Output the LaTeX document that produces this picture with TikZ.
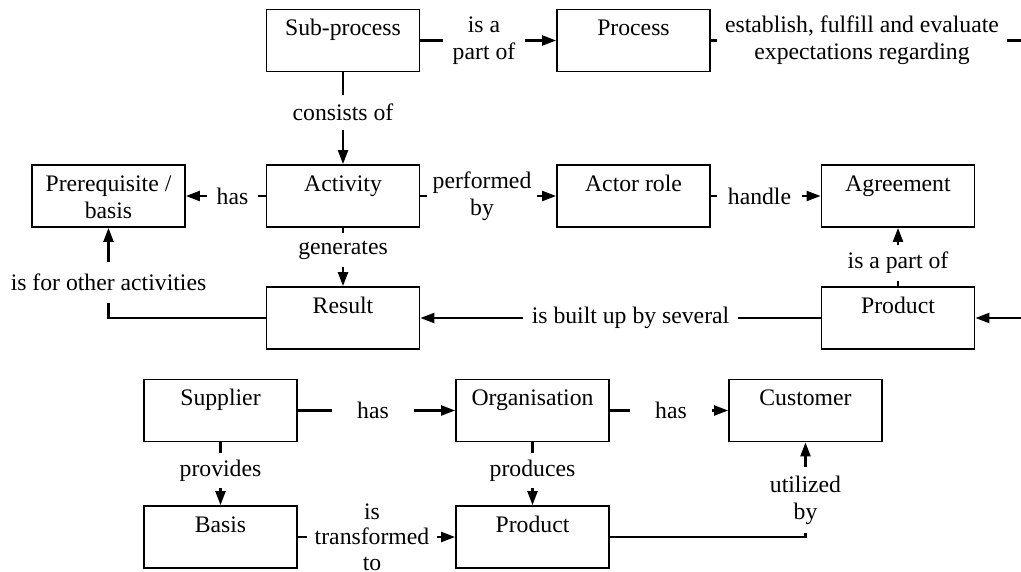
\documentclass[tikz,border=0pt]{standalone}
\usepackage{fontspec}
\setmainfont{Liberation Serif}
\usetikzlibrary{arrows.meta}

\newcommand{\boxtext}[1]{\parbox[t][62pt][t]{150pt}{\centering\rule{0pt}{26pt}#1}}

\tikzset{
    entity/.style={draw, line width=1.8pt, inner sep=0pt, minimum width=153pt},
    hrel/.style={inner sep=0pt, minimum width=#1, align=center},
    vrel/.style={inner sep=0pt, minimum height=#1, align=center},
    link/.style={line width=2.2pt},
    arr/.style={line width=2.2pt, -{Triangle[length=14pt,width=10pt]}}
}

\begin{document}
\begin{tikzpicture}[x=1pt, y=-1pt, font=\fontsize{23.7}{27}\selectfont]
        \useasboundingbox (0,0) rectangle (1021,571);

        \node[entity] (sub) at (343,40.5) {\boxtext{Sub-process}};
        \node[entity] (proc) at (633.5,40.5) {\boxtext{Process}};
        \node[entity] (prereq) at (108.5,196) {\boxtext{Prerequisite /\\basis}};
        \node[entity] (act) at (343,196) {\boxtext{Activity}};
        \node[entity] (actor) at (633.5,196) {\boxtext{Actor role}};
        \node[entity] (agree) at (898,196) {\boxtext{Agreement}};
        \node[entity] (result) at (343,318) {\boxtext{Result}};
        \node[entity] (prodtop) at (898,318) {\boxtext{Product}};
        \node[entity] (supplier) at (220.5,410.5) {\boxtext{Supplier}};
        \node[entity] (org) at (532.5,410.5) {\boxtext{Organisation}};
        \node[entity] (cust) at (805.5,410.5) {\boxtext{Customer}};
        \node[entity] (basis) at (220.5,537) {\boxtext{Basis}};
        \node[entity] (prodbot) at (532.5,537) {\boxtext{Product}};

        \coordinate (outR) at (1021,40.5);
        \coordinate (inR) at (1021,318);

        \node[hrel=82] (partof) at (484,40.5) {is a\\part of};
        \node[hrel=290] (expect) at (862,40.5) {establish, fulfill and evaluate\\expectations regarding};
        \node[vrel=35] (consists) at (343,112.5) {consists of};
        \node[hrel=51] (has1) at (232.5,196) {has};
        \node[hrel=110] (perf) at (482,196) {performed\\by};
        \node[hrel=85] (handle) at (759.5,196) {handle};
        \node[vrel=34] (gen) at (343,250) {generates};
        \node[vrel=36] (partof2) at (898,263) {is a part of};
        \node[hrel=215] (built) at (630.5,318) {is built up by several};
        \node[vrel=41] (isfor) at (108.5,282.5) {is for other activities};
        \node[hrel=82] (has2) at (373,410.5) {has};
        \node[hrel=82] (has3) at (671,410.5) {has};
        \node[vrel=35] (provides) at (220.5,470.5) {provides};
        \node[vrel=35] (produces) at (532.5,470.5) {produces};
        \node[hrel=130, font=\fontsize{23.7}{25.5}\selectfont] (transf) at (372,537) {is\\transformed\\to};
        \node[vrel=66] (util) at (805.5,500) {utilized\\by};

        \draw[link] (sub) -- (partof);
        \draw[arr] (partof) -- (proc);
        \draw[link] (proc) -- (expect);
        \draw[link] (expect) -- (outR);

        \draw[link] (sub) -- (consists);
        \draw[arr] (consists) -- (act);

        \draw[link] (act) -- (has1);
        \draw[arr] (has1) -- (prereq);
        \draw[link] (act) -- (perf);
        \draw[arr] (perf) -- (actor);
        \draw[link] (actor) -- (handle);
        \draw[arr] (handle) -- (agree);

        \draw[link] (act) -- (gen);
        \draw[arr] (gen) -- (result);
        \draw[link] (prodtop) -- (partof2);
        \draw[arr] (partof2) -- (agree);

        \draw[arr] (inR) -- (prodtop);
        \draw[link] (prodtop) -- (built);
        \draw[arr] (built) -- (result);
        \draw[link] (result) -| (isfor);
        \draw[arr] (isfor) -- (prereq);

        \draw[link] (supplier) -- (has2);
        \draw[arr] (has2) -- (org);
        \draw[link] (org) -- (has3);
        \draw[arr] (has3) -- (cust);

        \draw[link] (supplier) -- (provides);
        \draw[arr] (provides) -- (basis);
        \draw[link] (org) -- (produces);
        \draw[arr] (produces) -- (prodbot);

        \draw[link] (basis) -- (transf);
        \draw[arr] (transf) -- (prodbot);
        \draw[link] (prodbot) -| (util);
        \draw[arr] (util) -- (cust);

\end{tikzpicture}
\end{document}
